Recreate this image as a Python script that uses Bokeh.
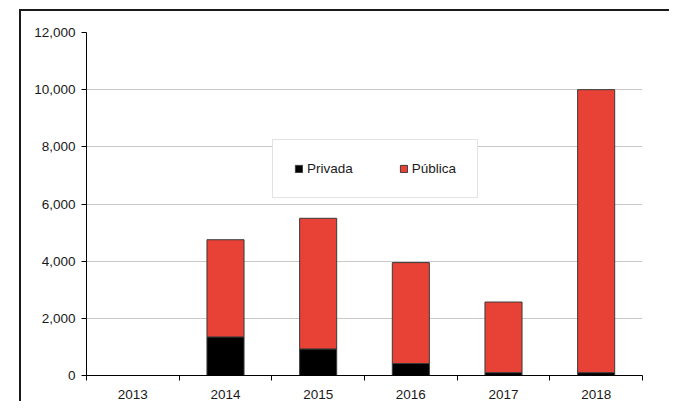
from bokeh.plotting import figure
from bokeh.models import ColumnDataSource, Range1d, FixedTicker, NumeralTickFormatter
from bokeh.embed import file_html
from bokeh.resources import INLINE

years = ["2013", "2014", "2015", "2016", "2017", "2018"]
privada = [0, 1350, 930, 420, 100, 100]
publica = [0, 3400, 4570, 3530, 2470, 9900]
y_ticks = [0, 2000, 4000, 6000, 8000, 10000, 12000]

FONT = "Liberation Sans"
FS = "13.5px"
RED = "#E84135"

x = [i + 0.5 for i in range(len(years))]
source = ColumnDataSource(dict(x=x, privada=privada, publica=publica))

p = figure(width=669, height=401, output_backend="svg", toolbar_location=None,
           x_range=Range1d(0, len(years)), y_range=Range1d(0, 12000),
           min_border_left=86, min_border_right=27, min_border_top=32, min_border_bottom=25)
p.outline_line_color = None
p.border_fill_alpha = 0
p.background_fill_color = "#ffffff"

# outer chart-area frame (left and top edges; the rest runs off the page),
# painted as a background of the plot element, under the transparent border area
p.styles = {
    "background-color": "#ffffff",
    "background-image": "linear-gradient(#1a1a1a, #1a1a1a), linear-gradient(#1a1a1a, #1a1a1a)",
    "background-size": "2px 100%, 100% 2px",
    "background-position": "19px 9px, 19px 9px",
    "background-repeat": "no-repeat",
}

p.vbar_stack(["privada", "publica"], x="x", width=0.4, source=source,
             fill_color=["#000000", RED], line_color="#3a3a3a", line_width=1,
             legend_label=["Privada", "Pública"])

xa = p.xaxis[0]
xa.ticker = FixedTicker(ticks=x, minor_ticks=list(range(len(years) + 1)))
xa.major_label_overrides = {xi: y for xi, y in zip(x, years)}
xa.major_tick_out = 0
xa.major_tick_in = 0
xa.minor_tick_out = 5
xa.minor_tick_in = 0
xa.minor_tick_line_color = "#000000"
xa.axis_line_color = "#000000"
xa.major_label_standoff = 9
xa.major_label_text_font = FONT
xa.major_label_text_font_size = FS
xa.major_label_text_color = "#1a1a1a"

ya = p.yaxis[0]
ya.ticker = FixedTicker(ticks=y_ticks)
ya.formatter = NumeralTickFormatter(format="0,0")
ya.major_tick_out = 5
ya.major_tick_in = 0
ya.minor_tick_line_color = None
ya.axis_line_color = "#000000"
ya.major_tick_line_color = "#000000"
ya.major_label_standoff = 6
ya.major_label_text_font = FONT
ya.major_label_text_font_size = FS
ya.major_label_text_color = "#1a1a1a"

p.xgrid.visible = False
p.ygrid.ticker = FixedTicker(ticks=y_ticks)
p.ygrid.grid_line_color = "#c8c8c8"

lg = p.legend[0]
lg.orientation = "horizontal"
lg.location = (186, 177)
lg.padding = 21
lg.margin = 0
lg.spacing = 46
lg.glyph_width = 9
lg.glyph_height = 9
lg.label_standoff = 4
lg.label_height = 13
lg.label_text_font = FONT
lg.label_text_font_size = FS
lg.label_text_color = "#1a1a1a"
lg.border_line_color = "#c8c8c8"
lg.border_line_width = 1
lg.background_fill_color = "#ffffff"
lg.background_fill_alpha = 1

open("out.html", "w").write(file_html(p, INLINE))
